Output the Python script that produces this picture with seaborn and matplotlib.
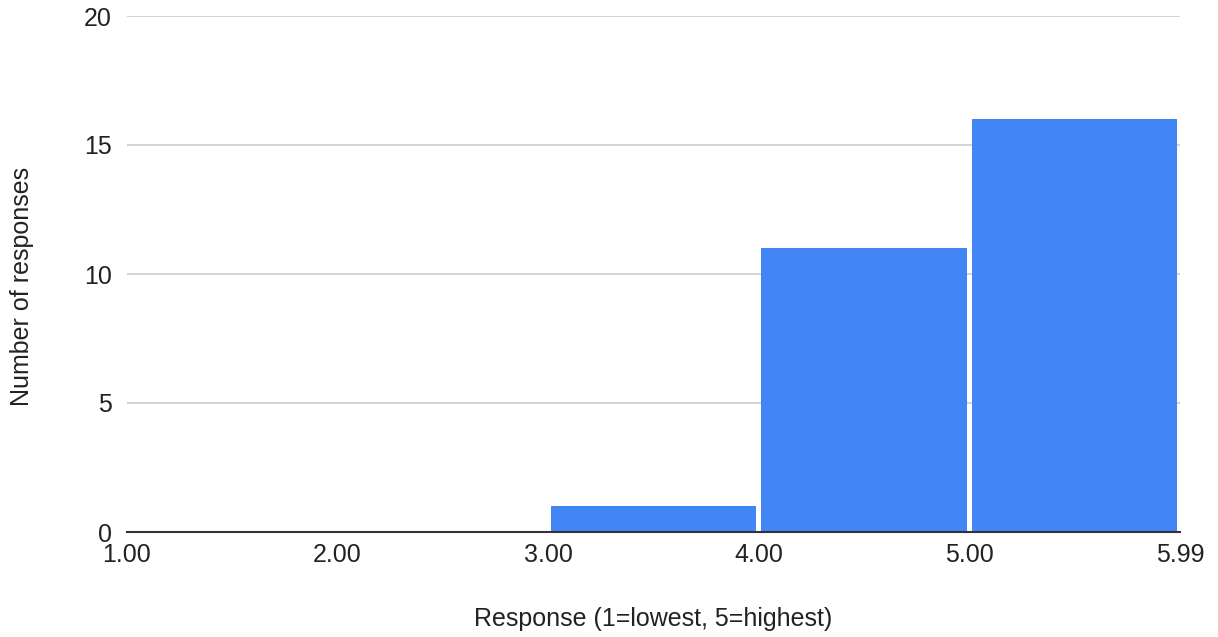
import matplotlib
matplotlib.use("Agg")
import matplotlib.pyplot as plt
import seaborn as sns

sns.set_theme(style="white")
plt.rcParams["font.family"] = ["Liberation Sans", "DejaVu Sans"]

# Histogram of responses
bin_edges = [1, 2, 3, 4, 5, 6]
bin_counts = [0, 0, 1, 11, 16]
tick_labels = ["1.00", "2.00", "3.00", "4.00", "5.00", "5.99"]
y_ticks = [0, 5, 10, 15, 20]

bin_mids = [(a + b) / 2 for a, b in zip(bin_edges[:-1], bin_edges[1:])]

fig = plt.figure(figsize=(12.18, 6.37), dpi=100)
ax = fig.add_axes([127 / 1218, 1 - 532 / 637, (1180 - 127) / 1218, (532 - 16) / 637])

sns.histplot(x=bin_mids, weights=bin_counts, bins=bin_edges, shrink=0.975,
             color="#4285F4", alpha=1, edgecolor="none", ax=ax, zorder=2)

ax.set_xlim(bin_edges[0], bin_edges[-1])
ax.set_ylim(0, 20)
ax.set_xticks(bin_edges)
ax.set_xticklabels(tick_labels)
ax.set_yticks(y_ticks)
ax.yaxis.grid(True, color="#cccccc", linewidth=1.2, zorder=0)
ax.set_axisbelow(True)
for side in ["top", "right", "left"]:
    ax.spines[side].set_visible(False)
ax.spines["bottom"].set_color("#333333")
ax.spines["bottom"].set_linewidth(1.5)
ax.spines["bottom"].set_zorder(3)
ax.tick_params(axis="both", length=0, labelsize=18, colors="#222222")
ax.tick_params(axis="x", pad=8)
ax.tick_params(axis="y", pad=11)

ax.set_xlabel("Response (1=lowest, 5=highest)", fontsize=18, color="#222222", labelpad=29)
ax.set_ylabel("Number of responses", fontsize=18, color="#222222", labelpad=36)
ax.yaxis.label.set_y(0.475)

fig.savefig("out.png", dpi=100, facecolor="white")
